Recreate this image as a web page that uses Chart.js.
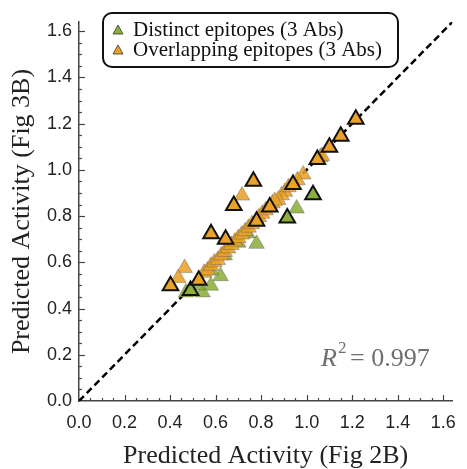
<!DOCTYPE html>
<html>
<head>
<meta charset="utf-8">
<script src="https://cdn.jsdelivr.net/npm/chart.js@4.4.1/dist/chart.umd.min.js"></script>
<style>
  html, body { margin: 0; padding: 0; background: #fff; }
</style>
</head>
<body>
<canvas id="activityChart" width="467" height="469"></canvas>
<script>
// Data
const legendLabels = ['Distinct epitopes (3 Abs)', 'Overlapping epitopes (3 Abs)'];
const tickValues = [0, 0.2, 0.4, 0.6, 0.8, 1.0, 1.2, 1.4, 1.6];
const r2Text = '0.997';

// distinct epitopes, black-edged markers
const distinctEdgeX = [1.028, 0.915, 0.490];
const distinctEdgeY = [0.893, 0.792, 0.478];
// distinct epitopes, lighter markers
const distinctX = [0.956, 0.780, 0.622, 0.579, 0.543, 0.470, 0.520, 0.580, 0.640, 0.700, 0.740];
const distinctY = [0.833, 0.680, 0.540, 0.499, 0.470, 0.470, 0.500, 0.565, 0.630, 0.685, 0.725];

// overlapping epitopes, black-edged markers
const overlapEdgeX = [1.216, 1.150, 1.100, 1.047, 0.940, 0.838, 0.780, 0.766, 0.680, 0.644, 0.580, 0.526, 0.402];
const overlapEdgeY = [1.219, 1.146, 1.098, 1.045, 0.937, 0.840, 0.778, 0.951, 0.846, 0.700, 0.724, 0.522, 0.499];
// overlapping epitopes, lighter markers
const overlapX = [0.464, 0.436, 0.716, 0.985, 1.060, 1.067, 0.905, 0.890, 0.875,
  0.550, 0.565, 0.580, 0.595, 0.610, 0.625, 0.640, 0.655, 0.670, 0.685, 0.700,
  0.715, 0.730, 0.745, 0.760, 0.790, 0.805, 0.820, 0.850, 0.860, 0.920, 0.960];
const overlapY = [0.575, 0.532, 0.889, 0.980, 1.055, 1.060, 0.905, 0.890, 0.870,
  0.555, 0.565, 0.585, 0.600, 0.610, 0.630, 0.645, 0.660, 0.675, 0.690, 0.705,
  0.720, 0.735, 0.750, 0.765, 0.795, 0.810, 0.825, 0.855, 0.865, 0.925, 0.955];

const identityX = [0, 1.64];
const identityY = [0, 1.64];

const green = '#8cae3c';
const orange = '#e9a128';

function toPoints(xs, ys) {
  return xs.map((x, i) => ({ x: x, y: ys[i] }));
}

// ticks that point into the plot, majors every 0.2, minors every 0.05
const innerTicks = {
  id: 'innerTicks',
  beforeDatasetsDraw(chart) {
    const ctx = chart.ctx;
    const xs = chart.scales.x, ys = chart.scales.y;
    const area = chart.chartArea;
    ctx.save();
    ctx.strokeStyle = '#444';
    ctx.lineWidth = 1.2;
    for (let k = 1; k * 0.05 <= xs.max + 1e-9; k++) {
      const len = k % 4 === 0 ? 6 : 3;
      const px = Math.round(xs.getPixelForValue(k * 0.05)) + 0.5;
      ctx.beginPath();
      ctx.moveTo(px, area.bottom);
      ctx.lineTo(px, area.bottom - len);
      ctx.stroke();
    }
    for (let k = 1; k * 0.05 <= ys.max + 1e-9; k++) {
      const len = k % 4 === 0 ? 6 : 3;
      const py = Math.round(ys.getPixelForValue(k * 0.05)) + 0.5;
      ctx.beginPath();
      ctx.moveTo(area.left, py);
      ctx.lineTo(area.left + len, py);
      ctx.stroke();
    }
    ctx.restore();
  }
};

// boxed legend in the top of the plot and the R^2 note
const boxLegend = {
  id: 'boxLegend',
  afterDraw(chart) {
    const ctx = chart.ctx;
    ctx.save();
    ctx.beginPath();
    ctx.roundRect(103, 13, 295, 54, 9);
    ctx.fillStyle = '#fff';
    ctx.fill();
    ctx.lineWidth = 2;
    ctx.strokeStyle = '#111';
    ctx.stroke();

    const colors = [green, orange];
    legendLabels.forEach((label, i) => {
      const cy = 30 + i * 20;
      ctx.beginPath();
      ctx.moveTo(118, cy - 5);
      ctx.lineTo(123, cy + 4);
      ctx.lineTo(113, cy + 4);
      ctx.closePath();
      ctx.fillStyle = colors[i];
      ctx.fill();
      ctx.lineWidth = 0.8;
      ctx.strokeStyle = '#333';
      ctx.stroke();
      ctx.fillStyle = '#111';
      ctx.font = '21px "Liberation Serif"';
      ctx.textBaseline = 'alphabetic';
      ctx.fillText(label, 133, 36 + i * 20);
    });

    ctx.fillStyle = '#6e6e6e';
    ctx.font = 'italic 26px "Liberation Serif"';
    ctx.fillText('R', 321, 366);
    ctx.font = '17px "Liberation Serif"';
    ctx.fillText('2', 338, 353);
    ctx.font = '26px "Liberation Serif"';
    ctx.fillText('= ' + r2Text, 350, 366);
    ctx.restore();
  }
};

const fadedStyle = {
  pointStyle: 'triangle',
  pointRadius: 9,
  pointHoverRadius: 9,
  pointBorderWidth: 1,
  pointBorderColor: 'rgba(90, 90, 90, 0.4)',
  showLine: false
};
const edgeStyle = {
  pointStyle: 'triangle',
  pointRadius: 9,
  pointHoverRadius: 9,
  pointBorderWidth: 2,
  pointBorderColor: '#111',
  showLine: false
};

const config = {
  type: 'scatter',
  data: {
    datasets: [
      Object.assign({ label: legendLabels[1], data: toPoints(overlapEdgeX, overlapEdgeY), backgroundColor: orange, order: 1 }, edgeStyle),
      Object.assign({ label: legendLabels[0], data: toPoints(distinctEdgeX, distinctEdgeY), backgroundColor: green, order: 2 }, edgeStyle),
      Object.assign({ label: legendLabels[1], data: toPoints(overlapX, overlapY), backgroundColor: 'rgba(233, 161, 40, 0.88)', order: 3 }, fadedStyle),
      Object.assign({ label: legendLabels[0], data: toPoints(distinctX, distinctY), backgroundColor: 'rgba(140, 174, 60, 0.88)', order: 4 }, fadedStyle),
      {
        type: 'line',
        label: 'y = x',
        data: toPoints(identityX, identityY),
        borderColor: '#000',
        borderWidth: 2.5,
        borderDash: [7, 4],
        pointRadius: 0,
        fill: false,
        order: 10
      }
    ]
  },
  options: {
    responsive: false,
    animation: false,
    devicePixelRatio: 1,
    layout: { padding: { top: 22, right: 8, left: 0, bottom: 0 } },
    plugins: {
      legend: { display: false },
      tooltip: { enabled: false }
    },
    scales: {
      x: {
        type: 'linear',
        min: 0,
        max: 1.64,
        grid: { display: false, drawTicks: false },
        border: { display: true, color: '#444', width: 1.5 },
        ticks: {
          color: '#222',
          padding: 11,
          font: { family: '"Liberation Sans", Arial', size: 18 },
          callback: v => v.toFixed(1)
        },
        afterBuildTicks: scale => { scale.ticks = tickValues.map(v => ({ value: v })); },
        afterFit: scale => { scale.height = 68; },
        title: {
          display: true,
          text: 'Predicted Activity (Fig 2B)',
          color: '#222',
          font: { family: '"Liberation Serif", "Times New Roman"', size: 26 },
          padding: { top: 0, bottom: -3 }
        }
      },
      y: {
        type: 'linear',
        min: 0,
        max: 1.64,
        grid: { display: false, drawTicks: false },
        border: { display: true, color: '#444', width: 1.5 },
        ticks: {
          color: '#222',
          padding: 7,
          font: { family: '"Liberation Sans", Arial', size: 18 },
          callback: v => v.toFixed(1)
        },
        afterBuildTicks: scale => { scale.ticks = tickValues.map(v => ({ value: v })); },
        afterFit: scale => { scale.width = 79; },
        title: {
          display: true,
          text: 'Predicted Activity (Fig 3B)',
          color: '#222',
          font: { family: '"Liberation Serif", "Times New Roman"', size: 26 },
          padding: { top: 7, bottom: 0 }
        }
      }
    }
  },
  plugins: [innerTicks, boxLegend]
};

const ctx = document.getElementById('activityChart').getContext('2d');
const activityChart = new Chart(ctx, config);
</script>
</body>
</html>
